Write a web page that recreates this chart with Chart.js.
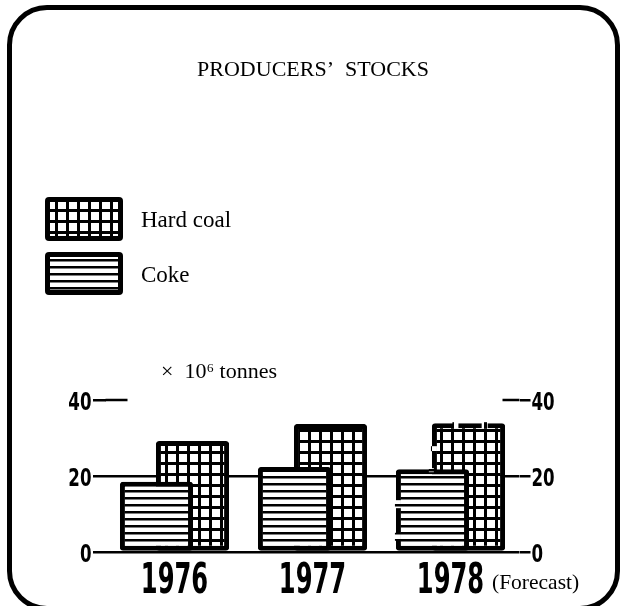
<!DOCTYPE html>
<html><head><meta charset="utf-8">
<script src="https://cdn.jsdelivr.net/npm/chart.js@4"></script>
<style>
html,body{margin:0;padding:0;background:#fff;}
#wrap{position:relative;width:638px;height:606px;overflow:hidden;background:#fff;}
#frame{position:absolute;left:7px;top:5px;width:613px;height:606px;border:5px solid #000;border-radius:40px;box-sizing:border-box;}
canvas{position:absolute;left:0;top:0;}
</style></head><body>
<div id="wrap"><div id="frame"></div><canvas id="c" width="638" height="606"></canvas></div>
<script>
const categories = ['1976', '1977', '1978'];
const hardCoal = [29.2, 33.7, 33.9];
const coke = [18.5, 22.4, 21.8];
const yTickValues = [0, 20, 40];
const seriesNames = ['Hard coal', 'Coke'];
const forecastIndex = 2;
const titleText = 'PRODUCERS\u2019  STOCKS';
const unitText = '\u00D7  10\u2076 tonnes';
const forecastText = '(Forecast)';

const COND = '"DejaVu Sans Condensed", "DejaVu Sans", sans-serif';
const SERIF = '"Liberation Serif", "DejaVu Serif", serif';

function makeGrid() {
  const c = document.createElement('canvas'); c.width = 11; c.height = 11;
  const g = c.getContext('2d');
  g.fillStyle = '#fff'; g.fillRect(0, 0, 11, 11);
  g.fillStyle = '#000'; g.fillRect(0, 0, 11, 3); g.fillRect(0, 0, 3, 11);
  return g.createPattern(c, 'repeat');
}
function makeStripes() {
  const c = document.createElement('canvas'); c.width = 8; c.height = 7;
  const g = c.getContext('2d');
  g.fillStyle = '#fff'; g.fillRect(0, 0, 8, 7);
  g.fillStyle = '#000'; g.fillRect(0, 0, 8, 2.5);
  return g.createPattern(c, 'repeat');
}

function condText(ctx, text, x, y, size, sx, align) {
  ctx.save();
  ctx.font = 'bold ' + size + 'px ' + COND;
  ctx.textAlign = align;
  ctx.textBaseline = 'alphabetic';
  ctx.translate(x, y);
  ctx.scale(sx, 1);
  ctx.fillText(text, 0, 0);
  ctx.restore();
}

function draw() {
  const ctx0 = document.getElementById('c').getContext('2d');
  const gridPat = makeGrid();
  const stripePat = makeStripes();

  const deco = {
    id: 'deco',
    afterDatasetsDraw(chart) {
      // broken outlines for forecast year
      const ctx = chart.ctx;
      const cokeBar = chart.getDatasetMeta(0).data[forecastIndex];
      const coalBar = chart.getDatasetMeta(1).data[forecastIndex];
      ctx.save();
      // hard coal: gaps in top edge and upper-left edge
      const ch = coalBar.getProps(['x', 'y', 'base', 'width'], true);
      const cl = ch.x - ch.width / 2, cw = ch.width;
      ctx.fillStyle = gridPat;
      [0.28, 0.68].forEach(f => ctx.fillRect(cl + cw * f, ch.y - 1, 6, 6));
      const ck = cokeBar.getProps(['x', 'y', 'base', 'width'], true);
      const kl = ck.x - ck.width / 2, kw = ck.width, kh = ck.base - ck.y;
      ctx.fillRect(cl - 1, ch.y + (ck.y - ch.y) * 0.5, 6, 5);
      // coke: gaps in left edge and top
      ctx.fillStyle = stripePat;
      [0.38, 0.78].forEach(f => ctx.fillRect(kl - 1, ck.y + kh * f, 6, 8));
      ctx.fillRect(kl + kw * 0.45, ck.y - 1, 5, 4);
      ctx.restore();
    },
    afterDraw(chart) {
      const ctx = chart.ctx;
      const ca = chart.chartArea;
      const y = chart.scales.y, y2 = chart.scales.y2, x = chart.scales.x;
      ctx.save();
      ctx.fillStyle = '#000';
      // title
      ctx.font = '22px ' + SERIF;
      ctx.textAlign = 'center';
      ctx.textBaseline = 'alphabetic';
      ctx.fillText(titleText, 313, 76);
      // legend
      const boxes = [{ y: 197, h: 44, pat: gridPat, label: seriesNames[0], by: 227 },
                     { y: 252, h: 43, pat: stripePat, label: seriesNames[1], by: 282 }];
      boxes.forEach(b => {
        ctx.fillStyle = '#000';
        ctx.beginPath(); ctx.roundRect(45, b.y, 78, b.h, 4); ctx.fill();
        ctx.fillStyle = b.pat;
        ctx.fillRect(50, b.y + 5, 68, b.h - 10);
        ctx.fillStyle = '#000';
        ctx.font = '23px ' + SERIF;
        ctx.textAlign = 'left';
        ctx.fillText(b.label, 141, b.by);
      });
      // units
      ctx.font = '22px ' + SERIF;
      ctx.fillText(unitText, 161, 378);
      // forecast
      ctx.font = '21.5px ' + SERIF;
      ctx.fillText(forecastText, 492, 589);
      // 40 tick extensions
      const p40 = y.getPixelForValue(40);
      ctx.strokeStyle = '#000'; ctx.lineWidth = 2.5;
      ctx.beginPath();
      ctx.moveTo(ca.left, p40); ctx.lineTo(ca.left + 22, p40);
      ctx.moveTo(ca.right - 17, p40); ctx.lineTo(ca.right, p40);
      ctx.stroke();
      // axis labels (condensed)
      yTickValues.forEach(v => {
        const py = y.getPixelForValue(v);
        condText(ctx, String(v), y.right - 14, py + 10, 25, 0.74, 'right');
        condText(ctx, String(v), y2.left + 12, py + 10, 25, 0.74, 'left');
      });
      categories.forEach((c, i) => {
        condText(ctx, c, x.getPixelForValue(i), ca.bottom + 41, 42, 0.64, 'center');
      });
      ctx.restore();
    }
  };

  new Chart(ctx0, {
    type: 'bar',
    data: {
      labels: categories,
      datasets: [
        { label: seriesNames[1], data: coke, backgroundColor: stripePat, borderColor: '#000', borderWidth: 5, borderRadius: 3, borderSkipped: false, yAxisID: 'y' },
        { label: seriesNames[0], data: hardCoal, backgroundColor: gridPat, borderColor: '#000', borderWidth: 5, borderRadius: 3, borderSkipped: false, yAxisID: 'y' }
      ]
    },
    options: {
      responsive: false,
      animation: false,
      devicePixelRatio: 1,
      categoryPercentage: 0.522,
      barPercentage: 2.03,
      layout: { padding: { top: 400, left: 0, right: 0, bottom: 0 } },
      plugins: { legend: { display: false }, tooltip: { enabled: false }, title: { display: false } },
      scales: {
        x: {
          grid: { display: false, drawTicks: false },
          border: { display: false },
          ticks: { display: false },
          afterFit(s) { s.height = 54; }
        },
        y: {
          position: 'left', min: 0, max: 40,
          afterBuildTicks(s) { s.ticks = yTickValues.map(v => ({ value: v })); },
          grid: { color: c => (c.tick && c.tick.value === 40) ? 'rgba(0,0,0,0)' : '#000', tickColor: '#000', lineWidth: 2.5, tickLength: 12.5 },
          border: { display: false },
          ticks: { display: false },
          afterFit(s) { s.width = 105.5; }
        },
        y2: {
          position: 'right', min: 0, max: 40,
          afterBuildTicks(s) { s.ticks = yTickValues.map(v => ({ value: v })); },
          grid: { drawOnChartArea: false, color: '#000', tickColor: '#000', lineWidth: 2.5, tickLength: 11 },
          border: { display: false },
          ticks: { display: false },
          afterFit(s) { s.width = 118.5; }
        }
      }
    },
    plugins: [deco]
  });
}

Promise.all([
  document.fonts.load('bold 40px "DejaVu Sans Condensed"'),
  document.fonts.load('22px "Liberation Serif"')
]).catch(() => {}).then(draw);
</script>
</body></html>
